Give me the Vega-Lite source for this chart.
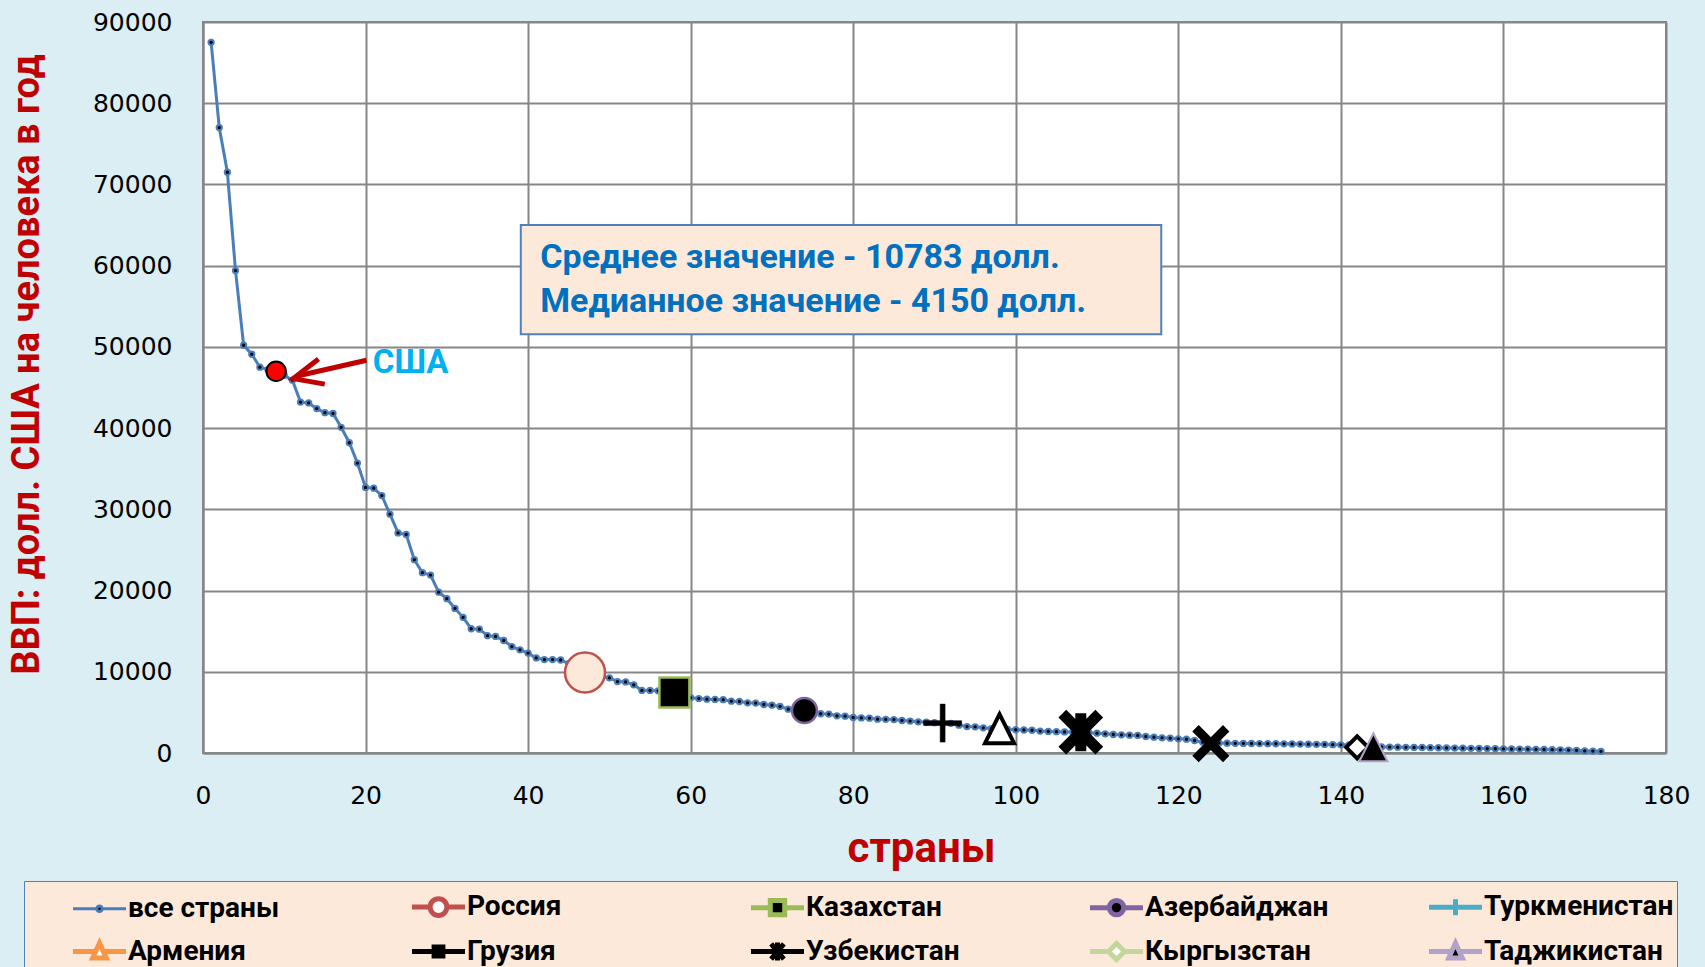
{
  "$schema": "https://vega.github.io/schema/vega-lite/v6.json",
  "width": 1463,
  "height": 731,
  "autosize": {"type": "none"},
  "padding": {"left": 203, "top": 22, "right": 39, "bottom": 214},
  "background": "#DAEEF3",
  "config": {
    "view": {"fill": "#FFFFFF", "stroke": "#868686", "strokeWidth": 2},
    "axis": {
      "grid": true, "gridColor": "#868686", "gridWidth": 2,
      "domainColor": "#868686", "domainWidth": 2, "ticks": false,
      "labelFont": "DejaVu Sans", "labelFontSize": 25, "labelColor": "#000000"
    }
  },
  "resolve": {"scale": {"shape": "independent", "fill": "independent", "stroke": "independent", "strokeWidth": "independent", "size": "independent"}},
  "datasets": {
    "all": [
      {"n":1,"gdp":87500},{"n":2,"gdp":77000},{"n":3,"gdp":71500},{"n":4,"gdp":59400},{"n":5,"gdp":50200},
      {"n":6,"gdp":49100},{"n":7,"gdp":47500},{"n":8,"gdp":47200},{"n":9,"gdp":47000},{"n":10,"gdp":46500},
      {"n":11,"gdp":45900},{"n":12,"gdp":43200},{"n":13,"gdp":43100},{"n":14,"gdp":42400},{"n":15,"gdp":41900},
      {"n":16,"gdp":41800},{"n":17,"gdp":40100},{"n":18,"gdp":38200},{"n":19,"gdp":35700},{"n":20,"gdp":32700},
      {"n":21,"gdp":32600},{"n":22,"gdp":31700},{"n":23,"gdp":29400},{"n":24,"gdp":27100},{"n":25,"gdp":26900},
      {"n":26,"gdp":23800},{"n":27,"gdp":22200},{"n":28,"gdp":21900},{"n":29,"gdp":19800},{"n":30,"gdp":19000},
      {"n":31,"gdp":17800},{"n":32,"gdp":16700},{"n":33,"gdp":15300},{"n":34,"gdp":15250},{"n":35,"gdp":14450},
      {"n":36,"gdp":14350},{"n":37,"gdp":13850},{"n":38,"gdp":13100},{"n":39,"gdp":12700},{"n":40,"gdp":12300},
      {"n":41,"gdp":11700},{"n":42,"gdp":11500},{"n":43,"gdp":11500},{"n":44,"gdp":11450},{"n":45,"gdp":11000},
      {"n":46,"gdp":10400},{"n":47,"gdp":9900},{"n":48,"gdp":9500},{"n":49,"gdp":9350},{"n":50,"gdp":9260},
      {"n":51,"gdp":8800},{"n":52,"gdp":8750},{"n":53,"gdp":8400},{"n":54,"gdp":7700},{"n":55,"gdp":7700},
      {"n":56,"gdp":7650},{"n":57,"gdp":7550},{"n":58,"gdp":7450},{"n":59,"gdp":7000},{"n":60,"gdp":6800},
      {"n":61,"gdp":6700},{"n":62,"gdp":6630},{"n":63,"gdp":6600},{"n":64,"gdp":6560},{"n":65,"gdp":6380},
      {"n":66,"gdp":6340},{"n":67,"gdp":6180},{"n":68,"gdp":6150},{"n":69,"gdp":5970},{"n":70,"gdp":5890},
      {"n":71,"gdp":5730},{"n":72,"gdp":5400},{"n":73,"gdp":5320},{"n":74,"gdp":5240},{"n":75,"gdp":5000},
      {"n":76,"gdp":4830},{"n":77,"gdp":4790},{"n":78,"gdp":4580},{"n":79,"gdp":4540},{"n":80,"gdp":4370},
      {"n":81,"gdp":4320},{"n":82,"gdp":4290},{"n":83,"gdp":4170},{"n":84,"gdp":4150},{"n":85,"gdp":4110},
      {"n":86,"gdp":4000},{"n":87,"gdp":3930},{"n":88,"gdp":3840},{"n":89,"gdp":3800},{"n":90,"gdp":3730},
      {"n":91,"gdp":3680},{"n":92,"gdp":3650},{"n":93,"gdp":3430},{"n":94,"gdp":3260},{"n":95,"gdp":3220},
      {"n":96,"gdp":3100},{"n":97,"gdp":3000},{"n":98,"gdp":2950},{"n":99,"gdp":2900},{"n":100,"gdp":2860},
      {"n":101,"gdp":2830},{"n":102,"gdp":2800},{"n":103,"gdp":2700},{"n":104,"gdp":2650},{"n":105,"gdp":2620},
      {"n":106,"gdp":2600},{"n":107,"gdp":2580},{"n":108,"gdp":2560},{"n":109,"gdp":2500},{"n":110,"gdp":2440},
      {"n":111,"gdp":2360},{"n":112,"gdp":2280},{"n":113,"gdp":2240},{"n":114,"gdp":2190},{"n":115,"gdp":2160},
      {"n":116,"gdp":2030},{"n":117,"gdp":1950},{"n":118,"gdp":1870},{"n":119,"gdp":1830},{"n":120,"gdp":1750},
      {"n":121,"gdp":1700},{"n":122,"gdp":1540},{"n":123,"gdp":1330},{"n":124,"gdp":1250},{"n":125,"gdp":1230},
      {"n":126,"gdp":1200},{"n":127,"gdp":1190},{"n":128,"gdp":1180},{"n":129,"gdp":1170},{"n":130,"gdp":1160},
      {"n":131,"gdp":1150},{"n":132,"gdp":1140},{"n":133,"gdp":1130},{"n":134,"gdp":1120},{"n":135,"gdp":1100},
      {"n":136,"gdp":1080},{"n":137,"gdp":1070},{"n":138,"gdp":1050},{"n":139,"gdp":1030},{"n":140,"gdp":1010},
      {"n":141,"gdp":990},{"n":142,"gdp":880},{"n":143,"gdp":820},{"n":144,"gdp":780},{"n":145,"gdp":750},
      {"n":146,"gdp":730},{"n":147,"gdp":720},{"n":148,"gdp":705},{"n":149,"gdp":690},{"n":150,"gdp":675},
      {"n":151,"gdp":660},{"n":152,"gdp":645},{"n":153,"gdp":625},{"n":154,"gdp":610},{"n":155,"gdp":595},
      {"n":156,"gdp":580},{"n":157,"gdp":560},{"n":158,"gdp":540},{"n":159,"gdp":525},{"n":160,"gdp":510},
      {"n":161,"gdp":495},{"n":162,"gdp":480},{"n":163,"gdp":465},{"n":164,"gdp":450},{"n":165,"gdp":430},
      {"n":166,"gdp":410},{"n":167,"gdp":390},{"n":168,"gdp":360},{"n":169,"gdp":330},{"n":170,"gdp":260},
      {"n":171,"gdp":235},{"n":172,"gdp":210}
    ],
    "hl": [
      {"n":47,"gdp":9900,"s":"Россия"},
      {"n":58,"gdp":7450,"s":"Казахстан"},
      {"n":74,"gdp":5240,"s":"Азербайджан"},
      {"n":91,"gdp":3680,"s":"Туркменистан"},
      {"n":98,"gdp":3000,"s":"Армения"},
      {"n":108,"gdp":2560,"s":"Грузия"},
      {"n":124,"gdp":1150,"s":"Узбекистан"},
      {"n":142,"gdp":700,"s":"Кыргызстан"},
      {"n":144,"gdp":700,"s":"Таджикистан"}
    ],
    "usa": [{"n":9,"gdp":47000}]
  },
  "layer": [
    {
      "data": {"name": "all"},
      "mark": {"type": "line", "color": "#4A7EBB", "strokeWidth": 3},
      "encoding": {
        "x": {"field": "n", "type": "quantitative", "scale": {"domain": [0, 180], "nice": false, "zero": false},
          "axis": {"values": [0,20,40,60,80,100,120,140,160,180], "format": "d", "title": "страны",
            "titleFont": "Roboto", "titleFontSize": 42, "titleFontWeight": "bold", "titleColor": "#C00000",
            "titleX": 718, "titleY": 95, "titleAlign": "center", "titleBaseline": "middle",
            "labelPadding": 30, "labelFlush": false, "labelOverlap": false}},
        "y": {"field": "gdp", "type": "quantitative", "scale": {"domain": [0, 90000], "nice": false},
          "axis": {"values": [0,10000,20000,30000,40000,50000,60000,70000,80000,90000], "format": "d",
            "title": "ВВП: долл. США на человека в год",
            "titleFont": "Roboto", "titleFontSize": 38, "titleFontWeight": "bold", "titleColor": "#C00000",
            "titleX": -176, "titleY": 342, "titleAngle": 270, "titleAlign": "center", "titleBaseline": "middle",
            "labelPadding": 31, "labelFlush": false, "labelOverlap": false}}
      }
    },
    {
      "data": {"name": "all"},
      "mark": {"type": "point", "shape": "circle", "filled": true, "opacity": 1, "fill": "#000000", "stroke": "#4A7EBB", "strokeWidth": 2, "size": 28},
      "encoding": {
        "x": {"field": "n", "type": "quantitative"},
        "y": {"field": "gdp", "type": "quantitative"}
      }
    },
    {
      "data": {"name": "hl"},
      "transform": [{"filter": "false"}],
      "mark": {"type": "point", "filled": true, "opacity": 1},
      "encoding": {
        "x": {"field": "n", "type": "quantitative"},
        "y": {"field": "gdp", "type": "quantitative"},
        "shape": {"field": "s", "type": "nominal",
          "scale": {"domain": ["все страны","Россия","Казахстан","Азербайджан","Туркменистан","Армения","Грузия","Узбекистан","Кыргызстан","Таджикистан"],
            "range": [
              "M-1.325,0L-0.14,0M0.14,0L1.325,0M-0.14,0A0.14,0.14,0,1,1,0.14,0A0.14,0.14,0,1,1,-0.14,0Z",
              "M-1.325,0L-0.42,0M0.42,0L1.325,0M-0.42,0A0.42,0.42,0,1,1,0.42,0A0.42,0.42,0,1,1,-0.42,0Z",
              "M-1.325,0L-0.36,0M0.36,0L1.325,0M-0.36,-0.36H0.36V0.36H-0.36Z",
              "M-1.325,0L-0.36,0M0.36,0L1.325,0M-0.36,0A0.36,0.36,0,1,1,0.36,0A0.36,0.36,0,1,1,-0.36,0Z",
              "M-1.325,0L1.325,0M0,-0.4L0,0.4",
              "M-1.325,0L-0.2,0M0.2,0L1.325,0M0,-0.42L0.34,0.32L-0.34,0.32Z",
              "M-1.325,0L1.325,0M-0.22,-0.22H0.22V0.22H-0.22Z",
              "M-1.325,0L1.325,0M-0.32,-0.38L0.32,0.38M0.32,-0.38L-0.32,0.38M0,-0.45L0,0.45",
              "M-1.325,0L-0.4,0M0.4,0L1.325,0M-0.4,0L0,-0.4L0.4,0L0,0.4Z",
              "M-1.325,0L-0.2,0M0.2,0L1.325,0M0,-0.42L0.34,0.32L-0.34,0.32Z"
            ]},
          "legend": {
            "title": " ", "titleOrient": "left", "titleFontSize": 1, "titlePadding": 50,
            "orient": "none", "legendX": -179, "legendY": 859,
            "columns": 5, "direction": "horizontal", "gridAlign": "all", "columnPadding": 84, "rowPadding": 3,
            "symbolSize": 1600, "symbolStrokeWidth": 0,
            "labelFont": "Roboto", "labelFontSize": 28, "labelFontWeight": "bold", "labelColor": "#000000",
            "labelOffset": 6, "labelLimit": 400,
            "fillColor": "#FDE9D9", "strokeColor": "#4F81BD", "padding": 3
          }
        },
        "fill": {"field": "s", "type": "nominal",
          "scale": {"domain": ["все страны","Россия","Казахстан","Азербайджан","Туркменистан","Армения","Грузия","Узбекистан","Кыргызстан","Таджикистан"],
            "range": ["#000000","#FFFFFF","#000000","#000000","#000000","#FFFFFF","#000000","#000000","#FFFFFF","#000000"]}},
        "stroke": {"field": "s", "type": "nominal",
          "scale": {"domain": ["все страны","Россия","Казахстан","Азербайджан","Туркменистан","Армения","Грузия","Узбекистан","Кыргызстан","Таджикистан"],
            "range": ["#4A7EBB","#C0504D","#9BBB59","#8064A2","#4BACC6","#F79646","#000000","#000000","#C3D69B","#B3A2C7"]}},
        "strokeWidth": {"field": "s", "type": "nominal",
          "scale": {"type": "ordinal", "domain": ["все страны","Россия","Казахстан","Азербайджан","Туркменистан","Армения","Грузия","Узбекистан","Кыргызстан","Таджикистан"],
            "range": [3,5,5,5,5,5,5,5,5,5]}}
      }
    },
    {
      "data": {"name": "hl"},
      "mark": {"type": "point", "filled": true, "opacity": 1},
      "encoding": {
        "x": {"field": "n", "type": "quantitative"},
        "y": {"field": "gdp", "type": "quantitative"},
        "shape": {"field": "s", "type": "nominal", "legend": null,
          "scale": {"domain": ["Россия","Казахстан","Азербайджан","Туркменистан","Армения","Грузия","Узбекистан","Кыргызстан","Таджикистан"],
            "range": ["circle","square","circle",
              "M-0.13,-1H0.13V-0.13H1V0.13H0.13V1H-0.13V0.13H-1V-0.13H-0.13Z",
              "M0,-1L1,1L-1,1Z",
              "M-0.84,-0.84L0.84,0.84M0.84,-0.84L-0.84,0.84M0,-0.86L0,0.86",
              "M-0.83,-0.83L0.83,0.83M0.83,-0.83L-0.83,0.83",
              "M-1,0L0,-1L1,0L0,1Z",
              "M0,-1L1,1L-1,1Z"]}},
        "fill": {"field": "s", "type": "nominal", "legend": null,
          "scale": {"domain": ["Россия","Казахстан","Азербайджан","Туркменистан","Армения","Грузия","Узбекистан","Кыргызстан","Таджикистан"],
            "range": ["#FDE9D9","#000000","#000000","#000000","#FFFFFF","#000000","#000000","#FFFFFF","#000000"]}},
        "stroke": {"field": "s", "type": "nominal", "legend": null,
          "scale": {"domain": ["Россия","Казахстан","Азербайджан","Туркменистан","Армения","Грузия","Узбекистан","Кыргызстан","Таджикистан"],
            "range": ["#C0504D","#9BBB59","#8064A2","#000000","#000000","#000000","#000000","#000000","#B3A2C7"]}},
        "size": {"field": "s", "type": "nominal", "legend": null,
          "scale": {"type": "ordinal", "domain": ["Россия","Казахстан","Азербайджан","Туркменистан","Армения","Грузия","Узбекистан","Кыргызстан","Таджикистан"],
            "range": [1600,900,625,1444,841,1936,1369,484,784]}},
        "strokeWidth": {"field": "s", "type": "nominal", "legend": null,
          "scale": {"type": "ordinal", "domain": ["Россия","Казахстан","Азербайджан","Туркменистан","Армения","Грузия","Узбекистан","Кыргызстан","Таджикистан"],
            "range": [2.5,2.5,2.5,0.5,4,11,9,4,2]}}
      }
    },
    {
      "data": {"name": "usa"},
      "mark": {"type": "point", "shape": "circle", "filled": true, "opacity": 1, "fill": "#FF0000", "stroke": "#000000", "strokeWidth": 2, "size": 380},
      "encoding": {
        "x": {"field": "n", "type": "quantitative"},
        "y": {"field": "gdp", "type": "quantitative"}
      }
    },
    {
      "data": {"values": [{}]},
      "mark": {"type": "rule", "color": "#C00000", "strokeWidth": 5},
      "encoding": {
        "x": {"datum": 20.12, "type": "quantitative"},
        "y": {"datum": 48360, "type": "quantitative"},
        "x2": {"datum": 11.6},
        "y2": {"datum": 46420}
      }
    },
    {
      "data": {"values": [{}]},
      "mark": {"type": "point", "shape": "M0.9,-0.8L-0.9,0L0.9,0.8", "filled": false, "opacity": 1, "stroke": "#C00000", "strokeWidth": 5, "size": 1056, "angle": 346},
      "encoding": {
        "x": {"datum": 12.85, "type": "quantitative"},
        "y": {"datum": 46530, "type": "quantitative"}
      }
    },
    {
      "data": {"values": [{}]},
      "mark": {"type": "text", "text": "США", "align": "left", "baseline": "middle", "font": "Roboto", "fontSize": 33, "fontWeight": "bold", "color": "#00B0F0"},
      "encoding": {
        "x": {"datum": 20.9, "type": "quantitative"},
        "y": {"datum": 48000, "type": "quantitative"}
      }
    },
    {
      "data": {"values": [{}]},
      "mark": {"type": "rect", "fill": "#FDE9D9", "stroke": "#4F81BD", "strokeWidth": 2},
      "encoding": {
        "x": {"datum": 39.1, "type": "quantitative"},
        "x2": {"datum": 117.9},
        "y": {"datum": 65000, "type": "quantitative"},
        "y2": {"datum": 51560}
      }
    },
    {
      "data": {"values": [{}]},
      "mark": {"type": "text", "text": "Среднее значение - 10783 долл.", "align": "left", "baseline": "middle", "font": "Roboto", "fontSize": 34, "fontWeight": "bold", "color": "#0070C0"},
      "encoding": {
        "x": {"datum": 41.5, "type": "quantitative"},
        "y": {"datum": 60930, "type": "quantitative"}
      }
    },
    {
      "data": {"values": [{}]},
      "mark": {"type": "text", "text": "Медианное значение - 4150 долл.", "align": "left", "baseline": "middle", "font": "Roboto", "fontSize": 34, "fontWeight": "bold", "color": "#0070C0"},
      "encoding": {
        "x": {"datum": 41.5, "type": "quantitative"},
        "y": {"datum": 55520, "type": "quantitative"}
      }
    }
  ]
}
